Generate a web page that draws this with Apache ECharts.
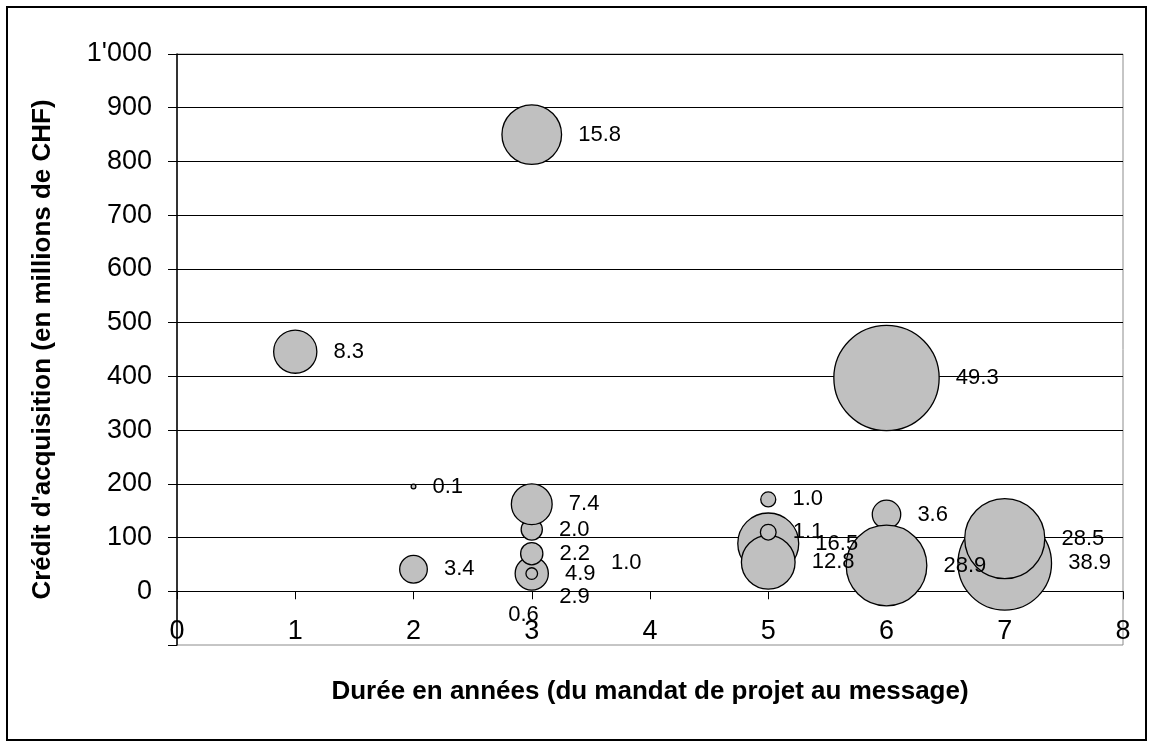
<!DOCTYPE html>
<html>
<head>
<meta charset="utf-8">
<script src="https://cdn.jsdelivr.net/npm/echarts@6/dist/echarts.min.js"></script>
<style>
html,body{margin:0;padding:0;background:#fff;}
#chart{width:1152px;height:747px;}
</style>
</head>
<body>
<div id="chart"></div>
<script>
// Data
var durations = [1, 2, 2, 3, 3, 3, 3, 3, 3, 3, 3, 5, 5, 5, 5, 6, 6, 6, 7, 7];
var credits   = [446, 195, 41, 850, 115, 162, 33, 33, 33, 70, 33, 171, 89, 54, 110, 397, 143, 48, 52, 98];
var sizes     = [8.3, 0.1, 3.4, 15.8, 2.0, 7.4, 2.9, 1.0, 4.9, 2.2, 0.6, 1.0, 16.5, 12.8, 1.1, 49.3, 3.6, 28.9, 38.9, 28.5];
var xTicks = [0, 1, 2, 3, 4, 5, 6, 7, 8];
var yTicks = [0, 100, 200, 300, 400, 500, 600, 700, 800, 900, 1000];
var xTitle = "Durée en années (du mandat de projet au message)";
var yTitle = "Crédit d'acquisition (en millions de CHF)";

// label placement tweaks (style only), keyed by point index
var labelOffsets = { 6: [-2, 23], 7: [55, -11], 10: [-46, 41] };

var FONT = 'Arial, "Liberation Sans", sans-serif';

var data = durations.map(function (d, i) {
  var item = { value: [d, credits[i], sizes[i]] };
  if (labelOffsets[i]) item.label = { offset: labelOffsets[i] };
  return item;
});

function fmtNum(v) {
  if (v < 0) return '';
  return String(v).replace(/\B(?=(\d{3})+(?!\d))/g, "'");
}

var splitColors = ['rgba(0,0,0,0)'].concat(yTicks.map(function () { return '#000'; }));

var chart = echarts.init(document.getElementById('chart'), null, { renderer: 'canvas' });
chart.setOption({
  animation: false,
  backgroundColor: '#fff',
  grid: {
    left: 177, right: 29, top: 54, bottom: 102,
    show: true, borderColor: '#8c8c8c', borderWidth: 1, backgroundColor: 'transparent'
  },
  graphic: [{
    type: 'rect', shape: { x: 7, y: 7, width: 1139, height: 733 },
    style: { fill: 'none', stroke: '#000', lineWidth: 2 }, z: 100
  }],
  xAxis: [{
    type: 'value', min: 0, max: 8, interval: 1, position: 'bottom',
    axisLine: { show: false, onZero: false },
    axisTick: { show: false },
    splitLine: { show: false },
    axisLabel: {
      inside: true, margin: 0, fontSize: 27, color: '#000', fontFamily: FONT,
      formatter: function (v) { return xTicks.indexOf(v) >= 0 ? String(v) : ''; }
    },
    name: xTitle, nameLocation: 'middle', nameGap: 34,
    nameTextStyle: { fontSize: 26, fontWeight: 'bold', color: '#000', fontFamily: FONT }
  }, {
    type: 'value', min: 0, max: 8, interval: 1, position: 'bottom',
    axisLine: { show: true, onZero: true, lineStyle: { color: '#000', width: 1 } },
    axisTick: { show: true, length: 8, lineStyle: { color: '#000' } },
    axisLabel: { show: false },
    splitLine: { show: false }
  }],
  yAxis: {
    type: 'value', min: -100, max: 1000, interval: 100,
    axisLine: { show: true, onZero: false, lineStyle: { color: '#000', width: 1.5 } },
    axisTick: { show: true, length: 9, lineStyle: { color: '#000' } },
    splitLine: { show: true, lineStyle: { color: splitColors, width: 1 } },
    axisLabel: { margin: 25, fontSize: 27, color: '#000', fontFamily: FONT, formatter: fmtNum },
    name: yTitle, nameLocation: 'middle', nameGap: 121,
    nameTextStyle: { fontSize: 26, fontWeight: 'bold', color: '#000', fontFamily: FONT }
  },
  series: [{
    type: 'scatter',
    xAxisIndex: 0,
    data: data,
    symbol: 'circle',
    symbolSize: function (val) { return 15 * Math.sqrt(val[2]); },
    itemStyle: { color: '#C0C0C0', borderColor: '#000', borderWidth: 1.3, opacity: 1 },
    label: {
      show: true, position: 'right', distance: 16,
      fontSize: 22, color: '#000', fontFamily: FONT,
      formatter: function (p) { return p.value[2].toFixed(1); }
    },
    emphasis: { disabled: true }
  }]
});
</script>
</body>
</html>
